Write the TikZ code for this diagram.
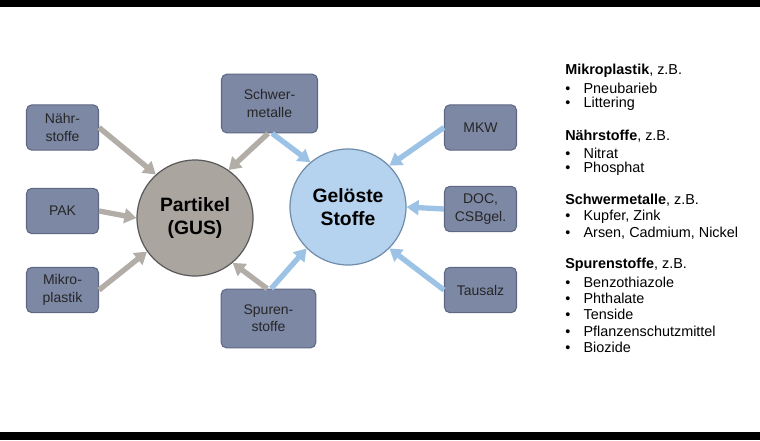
\documentclass[tikz,border=0pt]{standalone}
\usepackage{fontspec}
\setmainfont{Liberation Sans}
\usetikzlibrary{arrows.meta}
\definecolor{boxf}{HTML}{7D88A5}
\definecolor{boxd}{HTML}{5E6883}
\definecolor{gcirc}{HTML}{ABA59F}
\definecolor{bcirc}{HTML}{B5D3EE}
\definecolor{bcircd}{HTML}{6F8DAA}
\definecolor{garr}{HTML}{B3ADA7}
\definecolor{barr}{HTML}{9CC3E6}
\begin{document}
\begin{tikzpicture}[x=0.75pt,y=-0.75pt,
  box/.style={draw=boxd,fill=boxf,line width=0.8pt,rounded corners=4pt,minimum width=54pt,minimum height=34pt,inner sep=1pt,align=center,font=\fontsize{10.5}{13}\selectfont,text=black!85},
  circ/.style={circle,draw=#1,line width=0.9pt,minimum size=87pt,align=center,font=\bfseries\fontsize{14.5}{17}\selectfont},
  arr/.style={draw=#1,line width=4pt,-{Triangle[length=9pt,width=11pt]},shorten <=0pt},
  lst/.style={anchor=west,font=\fontsize{10.8}{13}\selectfont,inner sep=0pt}]
\fill[white] (0,0) rectangle (760,440);
\fill[black] (0,0) rectangle (760,7);
\fill[black] (0,432) rectangle (760,440);
\node[box] (nahr) at (62.5,127.5) {Nähr-\\stoffe};
\node[box] (pak) at (62.5,211) {PAK};
\node[box] (mikro) at (62.5,290) {Mikro-\\plastik};
\node[box,minimum width=72pt,minimum height=44pt] (schw) at (269.5,103.5) {Schwer-\\metalle};
\node[box,minimum width=71pt,minimum height=44pt] (spur) at (268.5,318.5) {Spuren-\\stoffe};
\node[box] (mkw) at (480.5,127.5) {MKW};
\node[box] (doc) at (480.5,209) {DOC,\\CSBgel.};
\node[box] (taus) at (480.5,290) {Tausalz};
\node[circ=black!65,fill=gcirc] (part) at (195,218) {Partikel\\(GUS)};
\node[circ=bcircd,fill=bcirc] (gel) at (348,207) {Gelöste\\Stoffe};
\draw[arr=garr] (nahr.east) -- (part.132);
\draw[arr=garr] (pak.east) -- (part.west);
\draw[arr=garr] (mikro.east) -- (part.215);
\draw[arr=garr] ([xshift=-1pt]schw.south) -- (part.55);
\draw[arr=barr] ([xshift=2pt]schw.south) -- (gel.130);
\draw[arr=garr] ([xshift=-1pt]spur.north) -- (part.-50);
\draw[arr=barr] ([xshift=2pt]spur.north) -- (gel.-135);
\draw[arr=barr] (mkw.west) -- (gel.45);
\draw[arr=barr] (doc.west) -- (gel.east);
\draw[arr=barr] (taus.west) -- (gel.-45);
\node[lst] (h1) at (565,71) {\textbf{Mikroplastik}, z.B.};
\node[lst] (a1) at (565,88) {•\hspace{10pt}Pneubarieb};
\node[lst] (a2) at (565,104) {•\hspace{10pt}Littering};
\node[lst] (h2) at (565,136) {\textbf{Nährstoffe}, z.B.};
\node[lst] (b1) at (565,153) {•\hspace{10pt}Nitrat};
\node[lst] (b2) at (565,169) {•\hspace{10pt}Phosphat};
\node[lst] (h3) at (565,200) {\textbf{Schwermetalle}, z.B.};
\node[lst] (c1) at (565,217) {•\hspace{10pt}Kupfer, Zink};
\node[lst] (c2) at (565,233) {•\hspace{10pt}Arsen, Cadmium, Nickel};
\node[lst] (h4) at (565,265) {\textbf{Spurenstoffe}, z.B.};
\node[lst] (d1) at (565,282) {•\hspace{10pt}Benzothiazole};
\node[lst] (d2) at (565,298) {•\hspace{10pt}Phthalate};
\node[lst] (d3) at (565,314) {•\hspace{10pt}Tenside};
\node[lst] (d4) at (565,331) {•\hspace{10pt}Pflanzenschutzmittel};
\node[lst] (d5) at (565,347) {•\hspace{10pt}Biozide};
\end{tikzpicture}
\end{document}
